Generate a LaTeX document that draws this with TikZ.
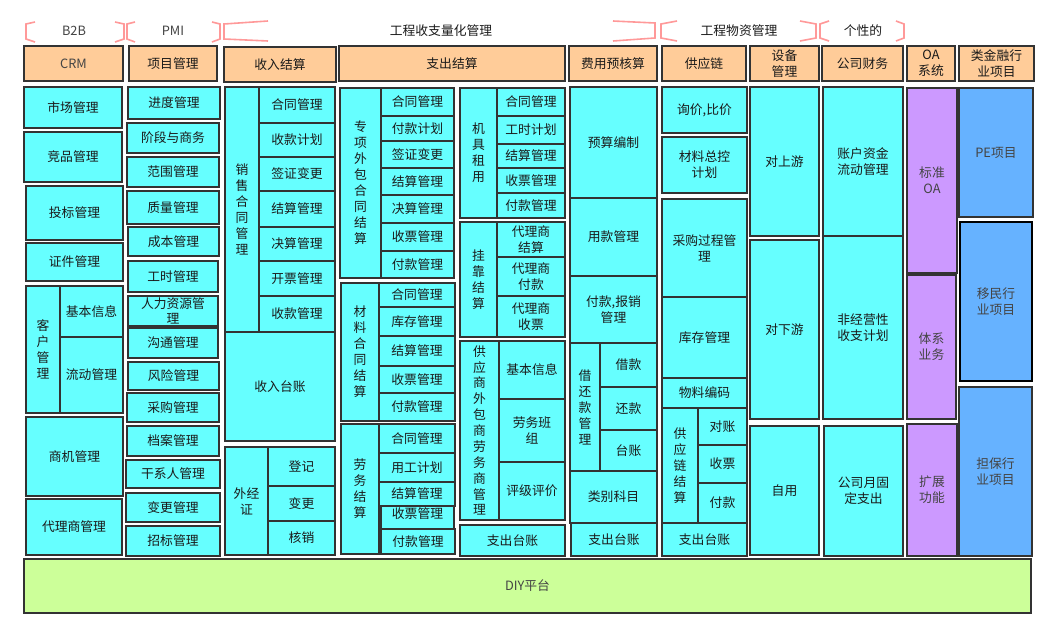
\documentclass[tikz,border=0pt]{standalone}
\usepackage{fontspec}
\setmainfont{Noto Sans CJK SC}
\definecolor{cy}{HTML}{66FFFF}
\definecolor{org}{HTML}{FFCC99}
\definecolor{grn}{HTML}{CCFF99}
\definecolor{pur}{HTML}{CC99FF}
\definecolor{blu}{HTML}{66B2FF}
\definecolor{brd}{HTML}{333333}
\definecolor{brk}{HTML}{FF9999}
\definecolor{txt}{HTML}{1A1A1A}
\definecolor{gtx}{HTML}{444444}
\tikzset{
  box/.style={draw=brd,line width=1.5pt,fill=cy,inner sep=0pt,align=center,text=txt,
    font=\fontsize{9.6pt}{12pt}\selectfont},
  hdr/.style={fill=org},
  purb/.style={fill=pur,text=gtx},
  blub/.style={fill=blu,text=gtx},
  grnb/.style={fill=grn,text=gtx},
  brack/.style={draw=brk,line width=1.2pt},
  lbl/.style={inner sep=0pt,font=\fontsize{9.6pt}{12pt}\selectfont}
}
\newcommand\mybox[7][]{%
  \pgfmathsetmacro\bw{(#5-#3)*0.75}%
  \pgfmathsetmacro\bh{(#6-#4)*0.75}%
  \node[box,#1,minimum width=\bw pt,minimum height=\bh pt] (#2) at ({(#3+#5)/2},{(#4+#6)/2}) {#7};}
\begin{document}
\begin{tikzpicture}[x=0.75pt,y=-0.75pt]
\useasboundingbox[fill=white] (0,0) rectangle (1062,624);
% brackets
\draw[brack] (35,22)--(26,24)--(26,39)--(35,42);
\draw[brack] (115,22)--(124,24)--(124,39)--(115,42);
\draw[brack] (135,22)--(127,24)--(127,39)--(135,42);
\draw[brack] (212,22)--(220,24)--(220,39)--(212,42);
\draw[brack] (268,21)--(224,24)--(224,39)--(268,41);
\draw[brack] (613,21)--(655,23)--(655,38)--(613,41);
\draw[brack] (677,21)--(661,24)--(661,38)--(677,41);
\draw[brack] (800,21)--(816,24)--(816,38)--(800,41);
\draw[brack] (829,21)--(820,24)--(820,38)--(829,41);
\draw[brack] (896,21)--(904,24)--(904,38)--(896,41);
\node[lbl,text=gtx] (tb2b) at (74,31) {B2B};
\node[lbl,text=gtx] (tpmi) at (173,31) {PMI};
\node[lbl,text=txt] (tgc) at (441,31) {工程收支量化管理};
\node[lbl,text=txt] (tgw) at (739,31) {工程物资管理};
\node[lbl,text=txt] (tgx) at (863,31) {个性的};
% headers
\mybox[hdr,text=gtx]{h1}{24}{46}{123}{81}{CRM}
\mybox[hdr]{h2}{129}{46}{217}{81}{项目管理}
\mybox[hdr]{h3}{224}{47}{336}{82}{收入结算}
\mybox[hdr]{h4}{339}{46}{565}{81}{支出结算}
\mybox[hdr]{h5}{569}{46}{657}{81}{费用预核算}
\mybox[hdr]{h6}{662}{46}{746}{81}{供应链}
\mybox[hdr]{h7}{750}{46}{819}{81}{设备\\管理}
\mybox[hdr]{h8}{822}{46}{903}{81}{公司财务}
\mybox[hdr]{h9}{907}{46}{955}{81}{OA\\系统}
\mybox[hdr]{h10}{959}{46}{1034}{81}{类金融行\\业项目}
% column 1
\mybox{c1a}{24}{87}{122}{128}{市场管理}
\mybox{c1b}{24}{132}{122}{182}{竞品管理}
\mybox{c1c}{26}{186}{123}{240}{投标管理}
\mybox{c1d}{26}{243}{123}{281}{证件管理}
\mybox{c1e}{26}{286}{60}{413}{客\\户\\管\\理}
\mybox{c1f}{60}{286}{123}{337}{基本信息}
\mybox{c1g}{60}{337}{123}{413}{流动管理}
\mybox{c1h}{26}{417}{123}{496}{商机管理}
\mybox{c1i}{26}{499}{122}{555}{代理商管理}
% column 2
\mybox{c2a}{128}{87}{220}{119}{进度管理}
\mybox{c2b}{127}{123}{219}{153}{阶段与商务}
\mybox{c2c}{127}{157}{219}{187}{范围管理}
\mybox{c2d}{127}{191}{219}{224}{质量管理}
\mybox{c2e}{128}{227}{219}{256}{成本管理}
\mybox{c2f}{128}{261}{218}{292}{工时管理}
\mybox[font=\fontsize{9.6pt}{11pt}\selectfont]{c2g}{128}{296}{218}{326}{人力资源管\\理}
\mybox{c2h}{128}{328}{218}{358}{沟通管理}
\mybox{c2i}{128}{362}{219}{390}{风险管理}
\mybox{c2j}{127}{393}{219}{422}{采购管理}
\mybox{c2k}{127}{426}{219}{456}{档案管理}
\mybox{c2l}{126}{460}{220}{488}{干系人管理}
\mybox{c2m}{126}{493}{220}{522}{变更管理}
\mybox{c2n}{126}{526}{220}{556}{招标管理}
% column 3
\mybox{c3a}{225}{87}{259}{332}{销\\售\\合\\同\\管\\理}
\mybox{c3b}{259}{87}{335}{123}{合同管理}
\mybox{c3c}{259}{123}{335}{157}{收款计划}
\mybox{c3d}{259}{157}{335}{191}{签证变更}
\mybox{c3e}{259}{191}{335}{227}{结算管理}
\mybox{c3f}{259}{227}{335}{261}{决算管理}
\mybox{c3g}{259}{261}{335}{296}{开票管理}
\mybox{c3h}{259}{296}{335}{332}{收款管理}
\mybox{c3i}{225}{332}{335}{441}{收入台账}
\mybox{c3j}{225}{447}{268}{555}{外经\\证}
\mybox{c3k}{268}{447}{335}{486}{登记}
\mybox{c3l}{268}{486}{335}{521}{变更}
\mybox{c3m}{268}{521}{335}{555}{核销}
% column 4 left
\mybox{c4a}{340}{88}{381}{278}{专\\项\\外\\包\\合\\同\\结\\算}
\mybox{c4b}{381}{88}{454}{116}{合同管理}
\mybox{c4c}{381}{116}{454}{141}{付款计划}
\mybox{c4d}{381}{141}{454}{168}{签证变更}
\mybox{c4e}{381}{168}{454}{195}{结算管理}
\mybox{c4f}{381}{195}{454}{223}{决算管理}
\mybox{c4g}{381}{223}{454}{251}{收票管理}
\mybox{c4h}{381}{251}{454}{278}{付款管理}
\mybox{c4i}{341}{283}{379}{421}{材\\料\\合\\同\\结\\算}
\mybox{c4j}{379}{283}{455}{307}{合同管理}
\mybox{c4k}{379}{307}{455}{336}{库存管理}
\mybox{c4l}{379}{336}{455}{366}{结算管理}
\mybox{c4m}{379}{366}{455}{393}{收票管理}
\mybox{c4n}{379}{393}{455}{421}{付款管理}
\mybox{c4o}{341}{424}{379}{554}{劳\\务\\结\\算}
\mybox{c4p}{379}{424}{455}{453}{合同管理}
\mybox{c4q}{379}{453}{455}{482}{用工计划}
\mybox{c4r}{381}{498}{454}{529}{收票管理}
\mybox{c4s}{379}{482}{455}{506}{结算管理}
\mybox{c4t}{381}{529}{455}{554}{付款管理}
% column 4 right
\mybox{c4u}{460}{88}{497}{218}{机\\具\\租\\用}
\mybox{c4v}{497}{88}{565}{116}{合同管理}
\mybox{c4w}{497}{116}{565}{144}{工时计划}
\mybox{c4x}{497}{144}{565}{168}{结算管理}
\mybox{c4y}{497}{168}{565}{193}{收票管理}
\mybox{c4z}{497}{193}{565}{218}{付款管理}
\mybox{c5a}{460}{222}{497}{337}{挂\\靠\\结\\算}
\mybox{c5b}{497}{222}{565}{257}{代理商\\结算}
\mybox{c5c}{497}{257}{565}{296}{代理商\\付款}
\mybox{c5d}{497}{296}{565}{337}{代理商\\收票}
\mybox[font=\fontsize{9.6pt}{11.9pt}\selectfont]{c5e}{460}{341}{499}{520}{供\\应\\商\\外\\包\\商\\劳\\务\\商\\管\\理}
\mybox{c5f}{499}{341}{565}{399}{基本信息}
\mybox{c5g}{499}{399}{565}{462}{劳务班\\组}
\mybox{c5h}{499}{462}{565}{520}{评级评价}
\mybox{c5i}{460}{525}{565}{556}{支出台账}
% column 5
\mybox{c6a}{570}{87}{657}{198}{预算编制}
\mybox{c6b}{570}{198}{657}{276}{用款管理}
\mybox{c6c}{570}{276}{657}{343}{付款,报销\\管理}
\mybox{c6d}{570}{343}{600}{471}{借\\还\\款\\管\\理}
\mybox{c6e}{600}{343}{657}{387}{借款}
\mybox{c6f}{600}{387}{657}{430}{还款}
\mybox{c6g}{600}{430}{657}{471}{台账}
\mybox{c6h}{570}{471}{657}{523}{类别科目}
\mybox{c6i}{571}{523}{657}{556}{支出台账}
% column 6
\mybox{c7a}{662}{87}{747}{133}{询价,比价}
\mybox{c7b}{662}{137}{747}{193}{材料总控\\计划}
\mybox{c7c}{662}{199}{747}{297}{采购过程管\\理}
\mybox{c7d}{662}{297}{747}{378}{库存管理}
\mybox{c7e}{662}{378}{747}{408}{物料编码}
\mybox{c7f}{662}{408}{698}{523}{供\\应\\链\\结\\算}
\mybox{c7g}{698}{408}{747}{445}{对账}
\mybox{c7h}{698}{445}{747}{483}{收票}
\mybox{c7i}{698}{483}{747}{523}{付款}
\mybox{c7j}{662}{523}{747}{556}{支出台账}
% column 7
\mybox{c8a}{750}{87}{819}{236}{对上游}
\mybox{c8b}{750}{240}{819}{419}{对下游}
\mybox{c8c}{750}{426}{819}{555}{自用}
% column 8
\mybox{c9a}{823}{87}{903}{236}{账户资金\\流动管理}
\mybox{c9b}{823}{236}{903}{419}{非经营性\\收支计划}
\mybox{c9c}{824}{426}{903}{556}{公司月固\\定支出}
% column 9
\mybox[purb]{c10a}{907}{88}{957}{273}{标准\\OA}
\mybox[purb]{c10b}{907}{275}{956}{419}{体系\\业务}
\mybox[purb]{c10c}{907}{424}{957}{556}{扩展\\功能}
% column 10
\mybox[blub]{c11a}{959}{88}{1033}{217}{PE项目}
\mybox[blub,draw=black,line width=1.8pt]{c11b}{960}{222}{1032}{381}{移民行\\业项目}
\mybox[blub]{c11c}{959}{387}{1032}{556}{担保行\\业项目}
% base
\mybox[grnb]{diy}{24}{559}{1031}{613}{DIY平台}
\end{tikzpicture}
\end{document}
